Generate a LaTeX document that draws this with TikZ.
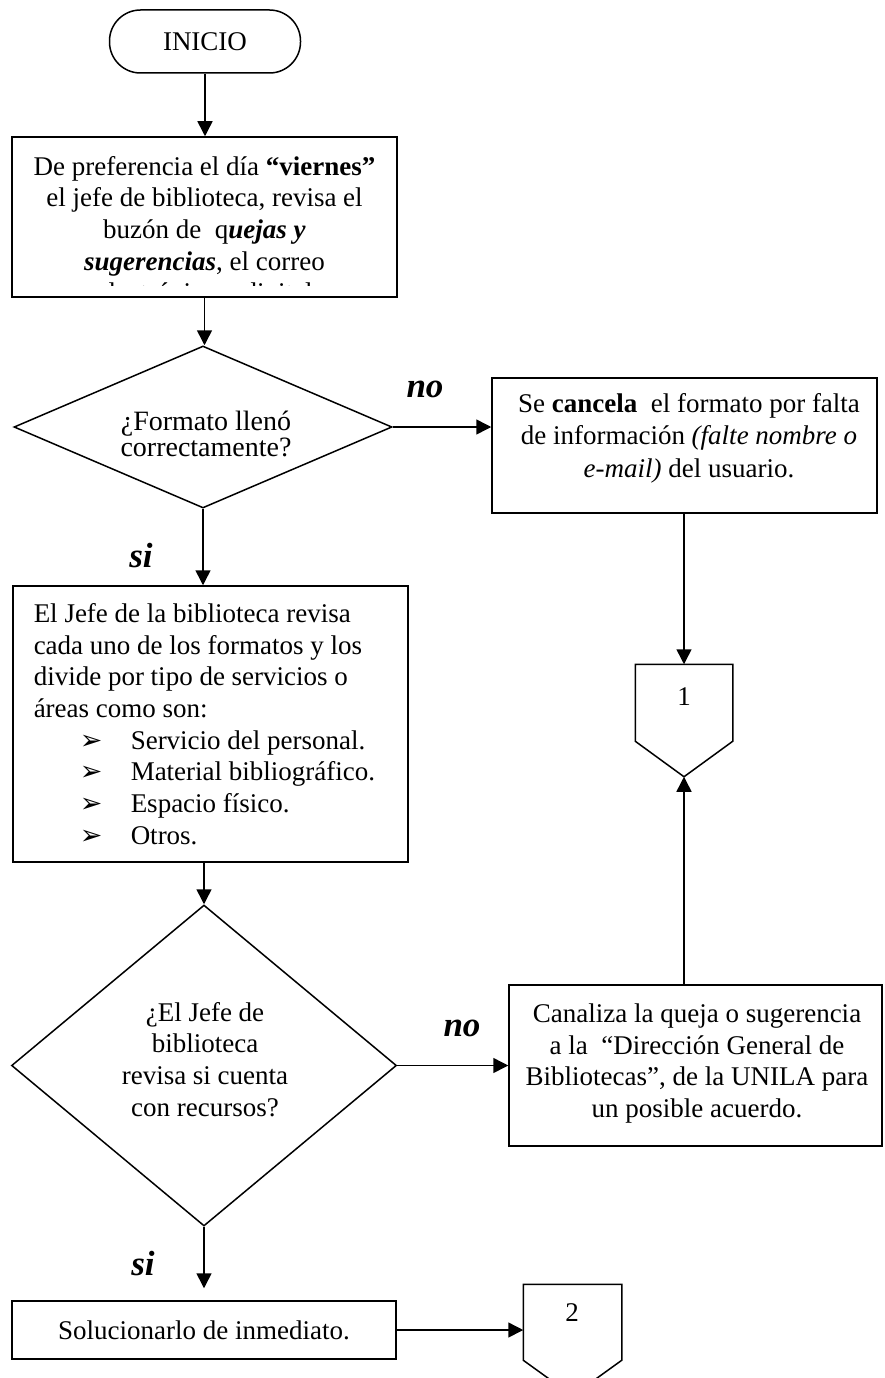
\documentclass[tikz,border=0pt]{standalone}
\usepackage{fontspec}
\setmainfont{Liberation Serif}
\newfontfamily\symfont{DejaVu Sans}
\usetikzlibrary{arrows.meta,shapes.geometric}
\newcommand{\lbul}{\hspace*{46pt}\makebox[51pt][l]{\symfont\fontsize{27}{27}\selectfont ➢}}

\begin{document}
\begin{tikzpicture}[x=1pt,y=-1pt,
  line width=1.5pt,
  shapebox/.style={draw, rectangle, inner sep=0pt},
  decision/.style={draw, diamond, inner sep=0pt},
  offpage/.style={inner sep=0pt},
  txt/.style={font=\fontsize{27}{31.7}\selectfont, align=center, inner sep=0pt},
  lbl/.style={font=\fontsize{35}{40}\selectfont\bfseries\itshape, inner sep=0pt},
  arr/.style={-{Triangle[length=15pt,width=15pt]}}]

\useasboundingbox (0,0) rectangle (884,1378);
\clip (0,0) rectangle (884,1378);

% start terminator
\node[draw, rounded corners=31pt, minimum width=191pt, minimum height=63pt,
      inner sep=0pt, font=\fontsize{27}{31.7}\selectfont] (inicio) at (205,41.5) {INICIO};

% first process box (text overflows and is cut at the bottom)
\node[shapebox, minimum width=385pt, minimum height=160pt] (box1) at (204.5,217) {};
\begin{scope}
  \clip (13,138) rectangle (396,285.5);
  \node[txt] (tBox1) at (204.5,232) {De preferencia el día \textbf{“viernes”}\\
    el jefe de biblioteca, revisa el\\
    buzón de\ \ q\textbf{\textit{uejas y}}\\
    \textbf{\textit{sugerencias}}, el correo\\
    electrónico y digital};
\end{scope}

% first decision
\node[decision, minimum width=378pt, minimum height=162pt] (d1) at (203,427) {};
\node[txt, font=\fontsize{28}{23}\selectfont] (tD1) at (206,434) {¿Formato llenó\\correctamente?};
\node[lbl] (no1) at (425,389) {no};
\node[lbl] (si1) at (141,556) {si};

% cancellation box
\node[shapebox, minimum width=385pt, minimum height=135pt] (cancel) at (684.5,445.5) {};
\node[txt, font=\fontsize{27}{32.5}\selectfont] (tCancel) at (689,438)
  {Se \textbf{cancela}\ \ el formato por falta\\de información \textit{(falte nombre o}\\\textit{e-mail)} del usuario.};

% off-page connector 1
\node[offpage, minimum width=96pt, minimum height=111pt] (c1) at (684,720.5) {};
\draw (c1.north west) -- (c1.north east) -- ([yshift=-77pt]c1.north east)
  -- (c1.south) -- ([yshift=-77pt]c1.north west) -- cycle;
\node[txt] (tOne) at (684,697) {1};

% classification box
\node[shapebox, minimum width=395pt, minimum height=276pt] (list) at (210.5,724) {};
\node[txt, align=left, anchor=west] (tList) at (33,724)
  {El Jefe de la biblioteca revisa\\
   cada uno de los formatos y los\\
   divide por tipo de servicios o\\
   áreas como son:\\
   \lbul Servicio del personal.\\
   \lbul Material bibliográfico.\\
   \lbul Espacio físico.\\
   \lbul Otros.};

% second decision
\node[decision, minimum width=385pt, minimum height=321pt] (d2) at (204,1065.5) {};
\node[txt] (tD2) at (205,1059.5) {¿El Jefe de\\biblioteca\\revisa si cuenta\\con recursos?};
\node[lbl] (no2) at (462,1028) {no};
\node[lbl] (si2) at (143,1264) {si};

% referral box
\node[shapebox, minimum width=373pt, minimum height=161pt] (canal) at (695.5,1065.5) {};
\node[txt] (tCanal) at (697,1063.5)
  {Canaliza la queja o sugerencia\\a la\ \ “Dirección General de\\Bibliotecas”, de la UNILA para\\un posible acuerdo.};

% solution box
\node[shapebox, minimum width=384pt, minimum height=58pt,
      font=\fontsize{27}{31.7}\selectfont] (sol) at (204,1330) {Solucionarlo de inmediato.};

% off-page connector 2
\node[offpage, minimum width=97pt, minimum height=110pt] (c2) at (572.5,1340) {};
\draw (c2.north west) -- (c2.north east) -- ([yshift=-76pt]c2.north east)
  -- (c2.south) -- ([yshift=-76pt]c2.north west) -- cycle;
\node[txt] (tTwo) at (572,1313) {2};

% connectors
\draw[arr] (inicio.south) -- (inicio.south |- box1.north);
\draw[arr] (box1.south) -- (box1.south |- d1.north);
\draw[arr] (d1.east) -- (d1.east -| cancel.west);
\draw[arr] (d1.south) -- (d1.south |- list.north);
\draw[arr] (c1.north |- cancel.south) -- (c1.north);
\draw[arr] (c1.south |- canal.north) -- (c1.south);
\draw[arr] (d2.north |- list.south) -- (d2.north);
\draw[arr] (d2.east) -- (d2.east -| canal.west);
\draw[arr, shorten >=12pt] (d2.south) -- (sol.north);
\draw[arr] (sol.east) -- (sol.east -| c2.west);

\end{tikzpicture}
\end{document}
